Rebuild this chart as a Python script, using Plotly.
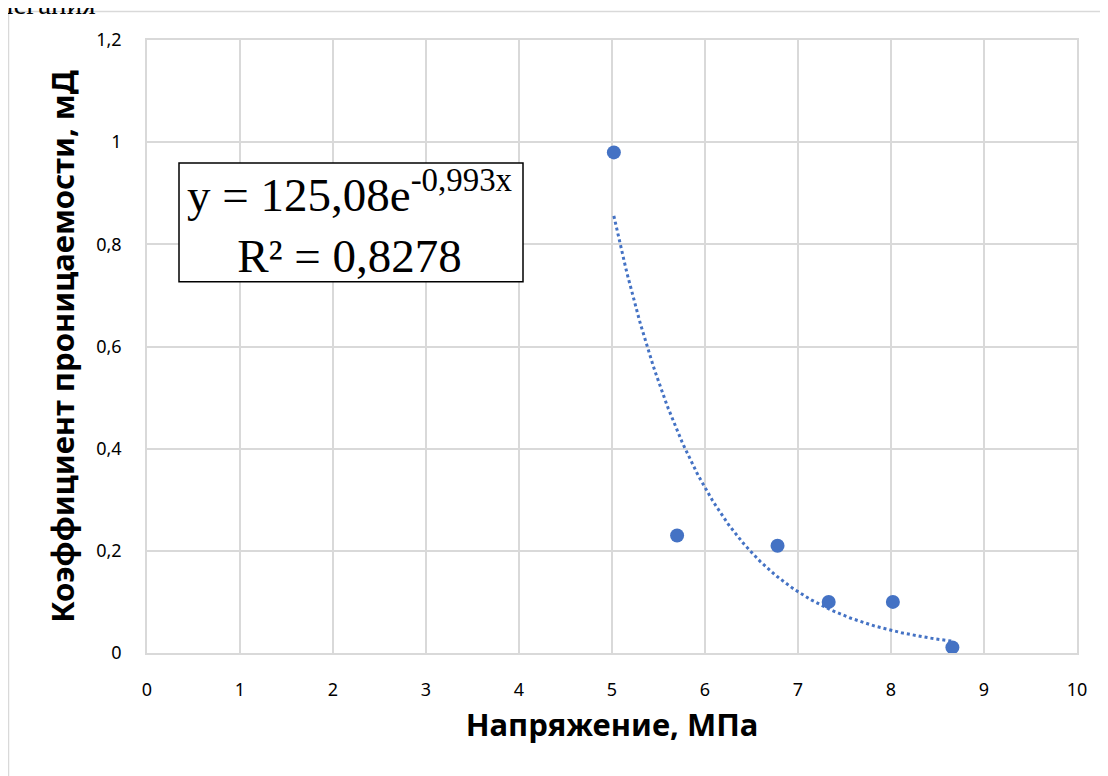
import numpy as np
import plotly.graph_objects as go

# Data
stress = [5.02, 5.70, 6.78, 7.33, 8.02, 8.66]          # Напряжение, МПа
permeability = [0.98, 0.23, 0.21, 0.10, 0.10, 0.011]  # Коэффициент проницаемости, мД

# Exponential trendline coefficients shown on the chart
TREND_A = 125.08
TREND_B = -0.993

x_ticks = [0, 1, 2, 3, 4, 5, 6, 7, 8, 9, 10]
x_ticktext = ["0", "1", "2", "3", "4", "5", "6", "7", "8", "9", "10"]
y_ticks = [0, 0.2, 0.4, 0.6, 0.8, 1.0, 1.2]
y_ticktext = ["0", "0,2", "0,4", "0,6", "0,8", "1", "1,2"]

OFF = 8  # page body margin in the browser
W, H = 1100, 768
ML, MT = 139, 32
PW, PH = 930, 613.5
MR, MB = W - ML - PW, H - MT - PH

def px_to_paper_x(px):
    return (px - OFF - ML) / PW

def px_to_paper_y(py):
    return 1 - (py - OFF - MT) / PH

blue = "#4472C4"
grid = "#d9d9d9"
sans = "Noto Sans"

tx = np.linspace(min(stress), max(stress), 200)
ty = TREND_A * np.exp(TREND_B * tx)

fig = go.Figure()
fig.add_trace(go.Scatter(x=tx, y=ty, mode="lines",
                         line=dict(color=blue, width=3, dash="dot"),
                         hoverinfo="skip", showlegend=False))
fig.add_trace(go.Scatter(x=stress, y=permeability, mode="markers",
                         marker=dict(color=blue, size=14),
                         showlegend=False))

fig.update_layout(
    width=W, height=H,
    margin=dict(l=ML, r=MR, t=MT, b=MB),
    paper_bgcolor="white", plot_bgcolor="white",
    font=dict(family=sans, color="black"),
    showlegend=False,
)
fig.update_xaxes(
    range=[0, 10], tickvals=x_ticks, ticktext=x_ticktext,
    showgrid=True, gridcolor=grid, gridwidth=1.5,
    showline=True, linecolor=grid, linewidth=1.5, mirror=True,
    zeroline=False, ticks="", ticklabelstandoff=20,
    tickfont=dict(family=sans, size=18, color="black"),
    title=dict(text="<b>Напряжение, МПа</b>", font=dict(family=sans, size=31, color="black"),
               standoff=14),
)
fig.update_yaxes(
    range=[0, 1.2], tickvals=y_ticks, ticktext=y_ticktext,
    showgrid=True, gridcolor=grid, gridwidth=1.5,
    showline=True, linecolor=grid, linewidth=1.5, mirror=True,
    zeroline=True, zerolinecolor="#bfbfbf", zerolinewidth=2,
    ticks="", ticklabelstandoff=20,
    tickfont=dict(family=sans, size=18, color="black"),
    title=dict(text="<b>Коэффициент проницаемости, мД</b>",
               font=dict(family=sans, size=31, color="black"), standoff=12),
)

# Chart-area border (Word/Excel frame)
fig.add_shape(type="rect", xref="paper", yref="paper",
              x0=px_to_paper_x(8.5), y0=px_to_paper_y(800),
              x1=px_to_paper_x(1130), y1=px_to_paper_y(11.5),
              line=dict(color=grid, width=1.5), fillcolor="rgba(0,0,0,0)", layer="below")

# Trendline equation label: box + text
fig.add_shape(type="rect", xref="paper", yref="paper",
              x0=px_to_paper_x(179), x1=px_to_paper_x(523),
              y0=px_to_paper_y(282), y1=px_to_paper_y(163),
              line=dict(color="black", width=1.5), fillcolor="white", layer="above")
fig.add_annotation(
    x=px_to_paper_x(350), y=px_to_paper_y(222), xref="paper", yref="paper",
    xanchor="center", yanchor="middle",
    text="y = 125,08e<sup>-0,993x</sup><br>R² = 0,8278",
    showarrow=False, align="center",
    font=dict(family="Liberation Serif", size=47, color="black"),
    borderpad=0,
)

# Document text cut off at the top
fig.add_annotation(
    x=px_to_paper_x(-3), y=px_to_paper_y(22), xref="paper", yref="paper",
    xanchor="left", yanchor="bottom", text="легания", showarrow=False,
    font=dict(family="Liberation Serif", size=29, color="black"),
)

fig.write_html("out.html")
